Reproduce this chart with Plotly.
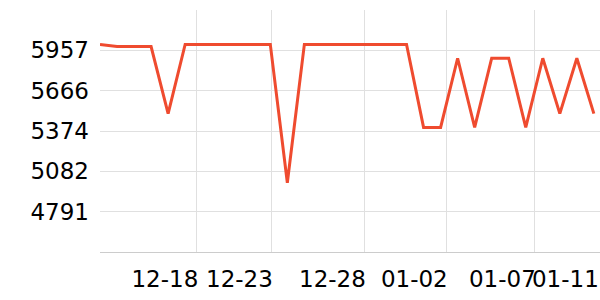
import plotly.graph_objects as go

# Data
point_index = list(range(30))
values = [6000, 5985, 5985, 5985, 5500, 6000, 6000, 6000, 6000, 6000,
          6000, 5000, 6000, 6000, 6000, 6000, 6000, 6000, 6000, 5400,
          5400, 5900, 5400, 5900, 5900, 5400, 5900, 5500, 5900, 5500]

x_tick_text = ["12-18", "12-23", "12-28", "01-02", "01-07", "01-11"]
x_grid_pos = [0, 5.68, 10.06, 15.52, 20.33, 25.50]
x_label_pos = [5.80, 10.18, 15.64, 20.45, 25.62, 29.32]

y_tick_vals = [4791, 5082, 5374, 5666, 5957]
y_tick_text = ["4791", "5082", "5374", "5666", "5957"]

x_range = [0, 29.36]
y_range = [4499, 6249]

FONT = "DejaVu Sans"
GRID = "#e0e0e0"

fig = go.Figure()
fig.add_trace(go.Scatter(
    x=point_index, y=values, mode="lines",
    line=dict(color="#ef4b2f", width=3),
    hoverinfo="skip", showlegend=False,
))
# invisible trace to activate the grid-only axis
fig.add_trace(go.Scatter(
    x=[x_range[0]], y=[y_range[0]], xaxis="x2", mode="markers",
    marker=dict(opacity=0), hoverinfo="skip", showlegend=False,
))

fig.update_layout(
    width=600, height=300,
    margin=dict(l=100, r=0, t=10, b=48),
    paper_bgcolor="white", plot_bgcolor="white",
    font=dict(family=FONT, size=23, color="#000"),
    xaxis=dict(
        range=x_range, tickmode="array", tickvals=x_label_pos, ticktext=x_tick_text,
        showgrid=False, zeroline=False, ticks="", tickangle=0,
        ticklabelposition="outside left", ticklabelstandoff=6,
        showline=True, linecolor="#cccccc", linewidth=1,
        tickfont=dict(family=FONT, size=23, color="#000"),
    ),
    xaxis2=dict(
        range=x_range, overlaying="x", tickmode="array", tickvals=x_grid_pos,
        showgrid=True, gridcolor=GRID, gridwidth=1, showticklabels=False,
        zeroline=False, ticks="", showline=False,
    ),
    yaxis=dict(
        range=y_range, tickmode="array", tickvals=y_tick_vals, ticktext=y_tick_text,
        showgrid=True, gridcolor=GRID, gridwidth=1, zeroline=False, ticks="",
        ticklabelstandoff=10, showline=False,
        tickfont=dict(family=FONT, size=23, color="#000"),
    ),
)

fig.write_html("out.html")
